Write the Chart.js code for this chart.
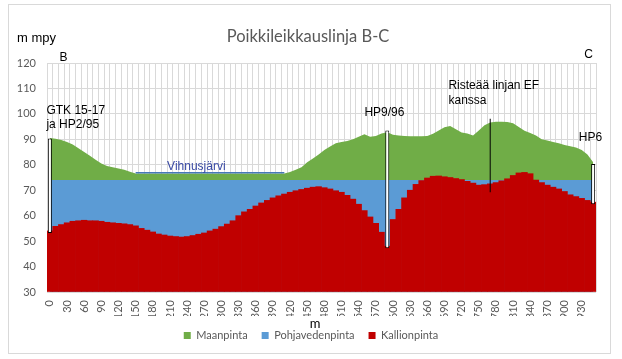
<!DOCTYPE html>
<html>
<head>
<meta charset="utf-8">
<script src="https://cdn.jsdelivr.net/npm/chart.js@4/dist/chart.umd.min.js"></script>
<style>
  html, body { margin: 0; padding: 0; background: #fff; }
  #wrap { width: 622px; height: 359px; }
</style>
</head>
<body>
<div id="wrap"><canvas id="profileChart" width="622" height="359"></canvas></div>
<script>
// Etäisyys linjalla (m), 10 m välein
const distances = [0, 10, 20, 30, 40, 50, 60, 70, 80, 90, 100, 110, 120, 130, 140, 150, 160, 170, 180, 190,
  200, 210, 220, 230, 240, 250, 260, 270, 280, 290, 300, 310, 320, 330, 340, 350, 360, 370, 380, 390,
  400, 410, 420, 430, 440, 450, 460, 470, 480, 490, 500, 510, 520, 530, 540, 550, 560, 570, 580, 590,
  600, 610, 620, 630, 640, 650, 660, 670, 680, 690, 700, 710, 720, 730, 740, 750, 760, 770, 780, 790,
  800, 810, 820, 830, 840, 850, 860, 870, 880, 890, 900, 910, 920, 930, 940, 950];

// Näytettävät x-akselin arvot (30 m välein)
const xTickLabels = [0, 30, 60, 90, 120, 150, 180, 210, 240, 270, 300, 330, 360, 390, 420, 450, 480, 510,
  540, 570, 600, 630, 660, 690, 720, 750, 780, 810, 840, 870, 900, 930];

// Maanpinta (m mpy)
const maanpinta = [90.5, 90.2, 89.7, 89, 88, 86.5, 85, 83.5, 82, 80.5, 79.5, 79, 78.5, 78, 77.3, 76.6, 76.6, 76.6, 76.6, 76.6,
  76.6, 76.6, 76.6, 76.6, 76.6, 76.6, 76.6, 76.6, 76.6, 76.6, 76.6, 76.6, 76.6, 76.6, 76.6, 76.6, 76.6, 76.6, 76.6, 76.6,
  76.6, 76.6, 77.2, 78, 79, 81, 82.5, 84, 85.8, 87.2, 88.5, 89, 89.3, 90, 91, 92, 91, 91.3, 92.3, 92.8,
  91.8, 91.5, 91.3, 91.2, 91.2, 91.2, 91.3, 92.2, 93.5, 94.7, 95.2, 94, 92.7, 92.3, 91.5, 93.5, 95.5, 96.6, 96.9, 96.9,
  96.8, 96.3, 94.8, 93.4, 92.5, 91.5, 90, 89.5, 89, 88.5, 87.8, 87.3, 86.8, 85.8, 84, 81];

// Pohjavedenpinta (m mpy)
const pohjavedenpinta = [74, 74, 74, 74, 74, 74, 74, 74, 74, 74, 74, 74, 74, 74, 74, 74, 74, 74, 74, 74,
  74, 74, 74, 74, 74, 74, 74, 74, 74, 74, 74, 74, 74, 74, 74, 74, 74, 74, 74, 74,
  74, 74, 74, 74, 74, 74, 74, 74, 74, 74, 74, 74, 74, 74, 74, 74, 74, 74, 74, 74,
  74, 74, 74, 74, 74, 74, 74, 74, 74, 74, 74, 74, 74, 74, 74, 74, 74, 74, 74, 74,
  74, 74, 74, 74, 74, 74, 74, 74, 74, 74, 74, 74, 74, 74, 74, 74];

// Kallionpinta (m mpy)
const kallionpinta = [54, 55.8, 56.5, 57.2, 57.8, 58, 58.2, 58, 58, 57.8, 57.4, 57.2, 57, 56.8, 56.5, 56, 55, 54.3, 53.6, 52.8,
  52.4, 52, 51.8, 51.6, 51.8, 52.2, 52.7, 53.2, 54, 54.7, 55.7, 56.7, 58, 60, 61.5, 62.5, 63.8, 65, 66, 67,
  67.8, 68.5, 69.2, 69.8, 70.3, 70.8, 71.2, 71.4, 71, 70.5, 69.8, 69.2, 68, 66.5, 64.5, 62, 59.5, 57, 53.5, 48,
  58.5, 62.5, 67, 70, 72.3, 73.8, 74.8, 75.5, 75.6, 75.3, 75, 74.6, 74.2, 73.5, 72.8, 72, 72.2, 72.5, 73, 73.7,
  74.5, 75.8, 76.8, 77, 76.5, 74, 73, 72, 71.2, 70.5, 69.5, 68.2, 67.5, 66.8, 66, 65.3];

// Vihnusjärven vedenpinta
const jarviAlku = 150, jarviLoppu = 410, jarviTaso = 76.9;

// Kairaukset: sijainti (m), alapää ja yläpää (m mpy)
const kairausPaikat = [0, 590, 950];
const kairausAla = [53.2, 47.2, 64.5];
const kairausYla = [90.3, 93.5, 80.3];
// Risteävä linja EF
const risteysPaikka = 770, risteysAla = 69.2, risteysYla = 98.1;

// Tekstit kuvassa: [teksti, sijainti (m), korkeus (m mpy), tasaus]
const tekstit = [
  ['B', 24, 122, 'center'],
  ['C', 942, 123.2, 'center'],
  ['GTK 15-17', -6, 101.2, 'left'],
  ['ja HP2/95', -6, 95.6, 'left'],
  ['HP9/96', 585, 100.5, 'center'],
  ['Risteää linjan EF', 697, 110.9, 'left'],
  ['kanssa', 697, 105.2, 'left'],
  ['HP6', 925, 90.5, 'left']
];
const jarviTeksti = ['Vihnusjärvi', 205, 79.2, 'left'];

const labels = distances.map(String);
const jarviData = distances.map(d => (d >= jarviAlku && d <= jarviLoppu) ? jarviTaso : null);
const kairausData = distances.map(d => {
  const k = kairausPaikat.indexOf(d);
  return k >= 0 ? [kairausAla[k], kairausYla[k]] : null;
});
const risteysData = distances.map(d => d === risteysPaikka ? [risteysAla, risteysYla] : null);

// Teksti ja kehys piirretään kaavion päälle
const tekstiPlugin = {
  id: 'tekstit',
  beforeDraw(chart) {
    const ctx = chart.ctx;
    ctx.save();
    ctx.fillStyle = '#fff';
    ctx.fillRect(0, 0, chart.width, chart.height);
    ctx.strokeStyle = '#d9d9d9';
    ctx.lineWidth = 1;
    ctx.strokeRect(8.5, 4.5, 602, 349);
    ctx.restore();
  },
  afterDraw(chart) {
    const ctx = chart.ctx;
    const x = chart.scales.x, y = chart.scales.y;
    const px = d => x.getPixelForValue((d - distances[0]) / 10);
    ctx.save();
    ctx.textBaseline = 'middle';
    ctx.font = '12px "Liberation Sans", Arial, sans-serif';
    ctx.fillStyle = '#000';
    tekstit.forEach(t => {
      ctx.textAlign = t[3];
      ctx.fillText(t[0], px(t[1]), y.getPixelForValue(t[2]));
    });
    ctx.fillStyle = '#3a4aa5';
    ctx.textAlign = jarviTeksti[3];
    ctx.fillText(jarviTeksti[0], px(jarviTeksti[1]), y.getPixelForValue(jarviTeksti[2]));

    // otsikko ja akselien nimet
    ctx.fillStyle = '#595959';
    ctx.textAlign = 'center';
    ctx.font = '16.5px Lato, sans-serif';
    ctx.fillText('Poikkileikkauslinja B-C', 308, 37);
    ctx.fillStyle = '#000';
    ctx.textAlign = 'left';
    ctx.font = '13px "Liberation Sans", Arial, sans-serif';
    ctx.fillText('m mpy', 17, 38);
    ctx.textAlign = 'center';
    ctx.font = '13px Lato, sans-serif';
    ctx.fillText('m', 315, 324);
    ctx.restore();
  }
};

new Chart(document.getElementById('profileChart'), {
  type: 'bar',
  data: {
    labels: labels,
    datasets: [
      {
        type: 'line',
        label: 'Maanpinta',
        data: maanpinta,
        borderWidth: 0,
        borderColor: '#70ad47',
        backgroundColor: '#70ad47',
        pointRadius: 0,
        fill: 'start',
        order: 5
      },
      {
        type: 'line',
        label: 'Pohjavedenpinta',
        data: pohjavedenpinta,
        borderWidth: 0,
        borderColor: '#5b9bd5',
        backgroundColor: '#5b9bd5',
        pointRadius: 0,
        fill: 'start',
        order: 4
      },
      {
        type: 'bar',
        label: 'Kallionpinta',
        data: kallionpinta,
        backgroundColor: '#c00000',
        borderWidth: 0,
        base: 30,
        barPercentage: 1,
        categoryPercentage: 1,
        order: 3
      },
      {
        type: 'line',
        label: 'järvi',
        data: jarviData,
        borderColor: '#4678b8',
        borderWidth: 1.5,
        pointRadius: 0,
        fill: false,
        order: 2
      },
      {
        type: 'bar',
        label: 'kairaus',
        data: kairausData,
        grouped: false,
        barThickness: 4,
        inflateAmount: 0,
        backgroundColor: '#ffffff',
        borderColor: '#000000',
        borderWidth: 1,
        borderSkipped: false,
        order: 1
      },
      {
        type: 'bar',
        label: 'risteys',
        data: risteysData,
        grouped: false,
        barThickness: 1,
        inflateAmount: 0,
        backgroundColor: '#000000',
        borderWidth: 0,
        order: 0
      }
    ]
  },
  options: {
    responsive: false,
    animation: false,
    layout: { padding: { left: 14, right: 14, top: 63, bottom: 8 } },
    plugins: {
      title: { display: false },
      tooltip: { enabled: false },
      legend: {
        position: 'bottom',
        labels: {
          filter: item => item.datasetIndex < 3,
          sort: (a, b) => a.datasetIndex - b.datasetIndex,
          boxWidth: 7,
          boxHeight: 7,
          padding: 14,
          color: '#595959',
          font: { family: 'Lato', size: 11 }
        }
      }
    },
    scales: {
      x: {
        afterFit: s => { s.height = 24; },
        grid: { color: '#d9d9d9', drawTicks: false },
        border: { display: false },
        ticks: {
          autoSkip: false,
          minRotation: 90,
          maxRotation: 90,
          padding: 8,
          color: '#595959',
          font: { family: 'Lato', size: 11 },
          callback: (v, i) => xTickLabels.includes(distances[i]) ? String(distances[i]) : ''
        }
      },
      y: {
        min: 30,
        max: 120,
        afterFit: s => { s.width = 33; },
        grid: { color: '#d9d9d9', drawTicks: false },
        border: { display: false },
        ticks: {
          stepSize: 10,
          padding: 11,
          color: '#595959',
          font: { family: 'Lato', size: 11 }
        }
      },
      // tyhjä oikea akseli, jotta selite asettuu keskelle
      yRight: {
        position: 'right',
        min: 30,
        max: 120,
        afterFit: s => { s.width = 12; },
        grid: { display: false },
        border: { display: false },
        ticks: { display: false }
      }
    }
  },
  plugins: [tekstiPlugin]
});
</script>
</body>
</html>
